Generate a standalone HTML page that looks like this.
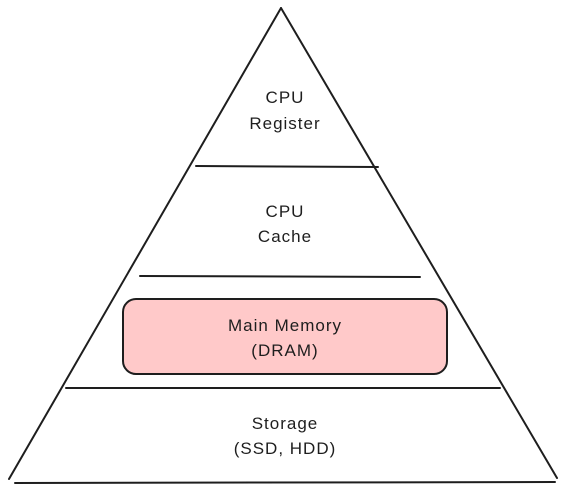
<!DOCTYPE html>
<html><head><style>html,body{margin:0;padding:0;background:#fff;width:565px;height:493px;overflow:hidden}</style></head>
<body>
<svg width="565" height="493" xmlns="http://www.w3.org/2000/svg">
<g stroke="#1e1e1e" stroke-width="2" fill="none" stroke-linecap="round">
<path d="M281 8 L9 479"/>
<path d="M281 8 L557 478"/>
<path d="M15 483 L555 482"/>
<path d="M66 388 L500 388"/>
<path d="M140 276 L420 277"/>
<path d="M196 166 L378 167"/>
<rect x="123" y="299" width="324" height="75" rx="13" fill="#ffc9c9"/>
</g>
<g font-family="'Comic Sans MS','Liberation Sans',sans-serif" font-size="17" letter-spacing="1" fill="#1e1e1e" text-anchor="middle">
<text x="285" y="103">CPU</text><text x="285" y="129">Register</text>
<text x="285" y="217">CPU</text><text x="285" y="242">Cache</text>
<text x="285" y="331">Main Memory</text><text x="285" y="356">(DRAM)</text>
<text x="285" y="429">Storage</text><text x="285" y="454">(SSD, HDD)</text>
</g>
</svg>
</body></html>
